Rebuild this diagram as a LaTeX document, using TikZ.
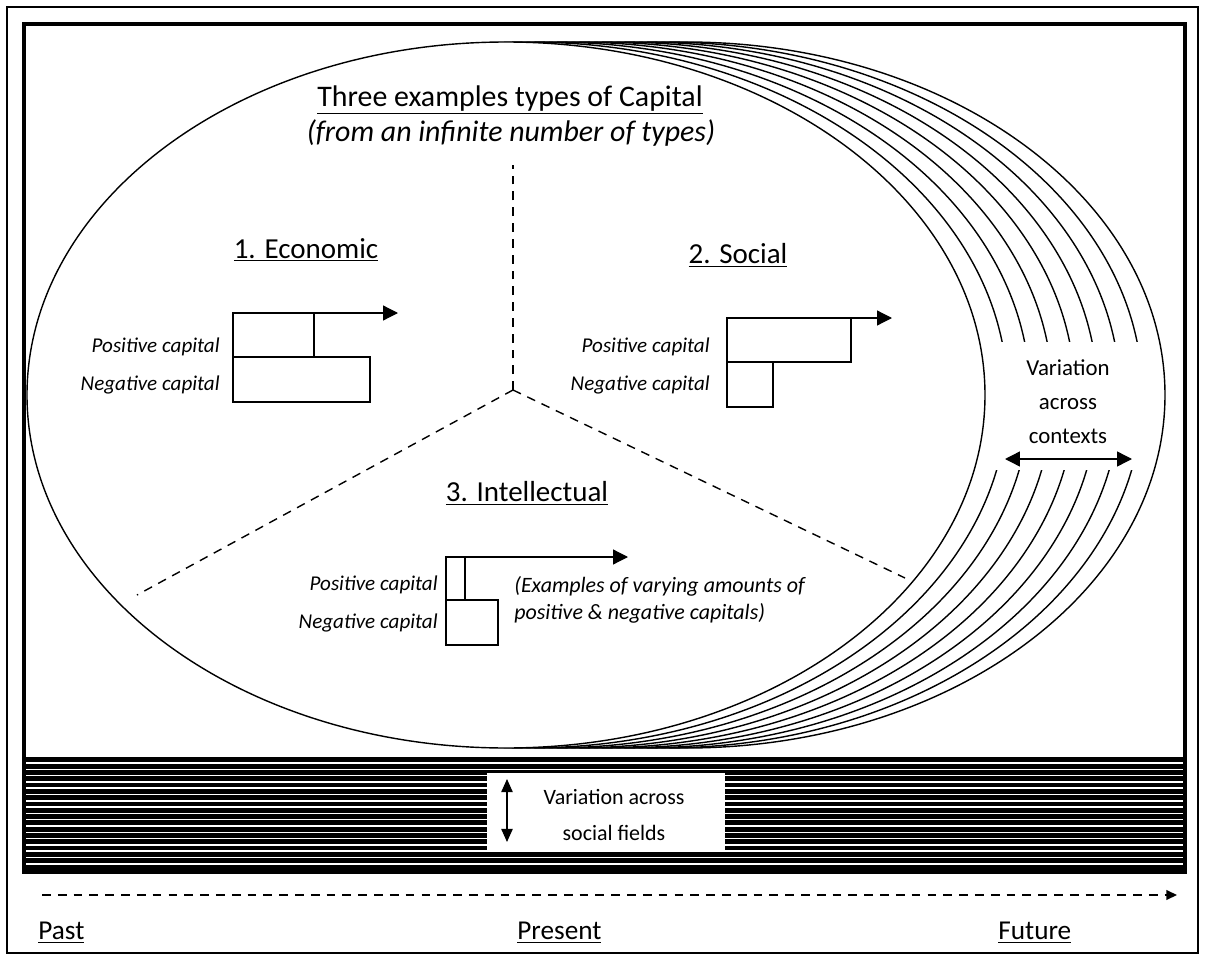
\documentclass[tikz,border=0pt]{standalone}
\usepackage{fontspec}
\setmainfont{Carlito}
\usetikzlibrary{arrows.meta}

\tikzset{
  ring/.style={line width=0.8pt,fill=white},
  capbar/.style={shape=rectangle,draw=black,line width=1.2pt,inner sep=0pt,outer sep=0pt,anchor=north west},
  barlabel/.style={anchor=east,inner sep=0pt,font=\fontsize{12}{14}\selectfont\itshape},
  heading/.style={inner sep=0pt,font=\fontsize{16.5}{20}\selectfont},
  tip/.style={-{Triangle[length=8.5pt,width=8.5pt]},line width=0.7pt},
  twotip/.style={{Triangle[length=8.5pt,width=8.5pt]}-{Triangle[length=8.5pt,width=8.5pt]},line width=0.8pt},
  divider/.style={line width=0.8pt,dash pattern=on 5pt off 4pt},
}

\begin{document}
\begin{tikzpicture}[x=0.02cm,y=-0.02cm]

\useasboundingbox (0,0) rectangle (1205,960);
\draw[line width=0.7pt] (7,7) rectangle (1198,953);

\foreach \k in {8,7,...,1}
  \draw[ring] (506+22.5*\k,395) ellipse [x radius=479, y radius=353];
\fill[white] (985,342) rectangle (1147,470);
\draw[ring] (506,395) ellipse [x radius=479, y radius=353];

\fill[black] (24,757) rectangle (1185,872);
\foreach \i in {0,...,16}
  \draw[white,line width=0.85pt] (24,763+6.3*\i) -- (1185,763+6.3*\i);
\fill[white] (487,773) rectangle (725,850);
\draw[line width=2.4pt] (24,24) rectangle (1185,872);

\coordinate (hub) at (513,390);
\coordinate (divtop) at (513,165);
\coordinate (divleft) at (137,595);
\coordinate (divright) at (905,578);
\path [divider] (hub) edge (divtop) edge (divleft) edge (divright);

\node[heading] (title) at (510,100) {\fontsize{17}{20}\selectfont\underline{Three examples types of Capital}};
\node[heading] (subtitle) at (511,133) {\fontsize{17}{20}\selectfont\itshape (from an infinite number of types)};

\node[heading] (econ) at (306,250) {\underline{1. Economic}};
\node[capbar,minimum width=1.62cm,minimum height=0.88cm] (econpos) at (233,313) {};
\node[capbar,minimum width=2.74cm,minimum height=0.9cm] (econneg) at (233,357) {};
\coordinate (econtip) at (398,313);
\path [tip] (econpos.north west) edge (econtip);
\node[barlabel] (econposl) at (220,347) {Positive capital};
\node[barlabel] (econnegl) at (220,385) {Negative capital};

\node[heading] (social) at (738,255) {\underline{2. Social}};
\node[capbar,minimum width=2.48cm,minimum height=0.88cm] (socpos) at (727,318) {};
\node[capbar,minimum width=0.92cm,minimum height=0.9cm] (socneg) at (727,362) {};
\coordinate (soctip) at (892,318);
\path [tip] (socpos.north west) edge (soctip);
\node[barlabel] (socposl) at (710,347) {Positive capital};
\node[barlabel] (socnegl) at (710,385) {Negative capital};

\node[heading] (intel) at (527,493) {\underline{3. Intellectual}};
\node[capbar,minimum width=0.38cm,minimum height=0.86cm] (intpos) at (446,557) {};
\node[capbar,minimum width=1.04cm,minimum height=0.9cm] (intneg) at (446,600) {};
\coordinate (inttip) at (628,557);
\path [tip] (intpos.north west) edge (inttip);
\node[barlabel] (intposl) at (438,585) {Positive capital};
\node[barlabel] (intnegl) at (438,623) {Negative capital};
\node[anchor=west,inner sep=0pt,align=left,font=\fontsize{12.5}{15}\selectfont\itshape] (note) at (514,600) {(Examples of varying amounts of\\positive \& negative capitals)};

\node[inner sep=0pt,align=center,font=\fontsize{13}{19.3}\selectfont] (contexts) at (1068,402) {Variation\\across\\contexts};
\coordinate (ctxleft) at (1005,459);
\coordinate (ctxright) at (1132,459);
\path [twotip] (ctxleft) edge (ctxright);

\node[inner sep=0pt,align=center,font=\fontsize{12.5}{21}\selectfont] (fields) at (614,815) {Variation across\\social fields};
\coordinate (fieldtop) at (507,779);
\coordinate (fieldbot) at (507,842);
\path [{Triangle[length=7.5pt,width=6.5pt]}-{Triangle[length=7.5pt,width=6.5pt]},line width=0.8pt] (fieldtop) edge (fieldbot);

\coordinate (tstart) at (42,895);
\coordinate (tend) at (1177,895);
\path [-{Triangle[length=6pt,width=5.5pt]},line width=0.8pt,dash pattern=on 5pt off 4pt] (tstart) edge (tend);
\node[anchor=west,inner sep=0pt,font=\fontsize{15.5}{18}\selectfont] (past) at (38,933) {\underline{Past}};
\node[anchor=west,inner sep=0pt,font=\fontsize{15.5}{18}\selectfont] (present) at (517,933) {\underline{Present}};
\node[anchor=west,inner sep=0pt,font=\fontsize{15.5}{18}\selectfont] (future) at (998,933) {\underline{Future}};

\end{tikzpicture}
\end{document}
